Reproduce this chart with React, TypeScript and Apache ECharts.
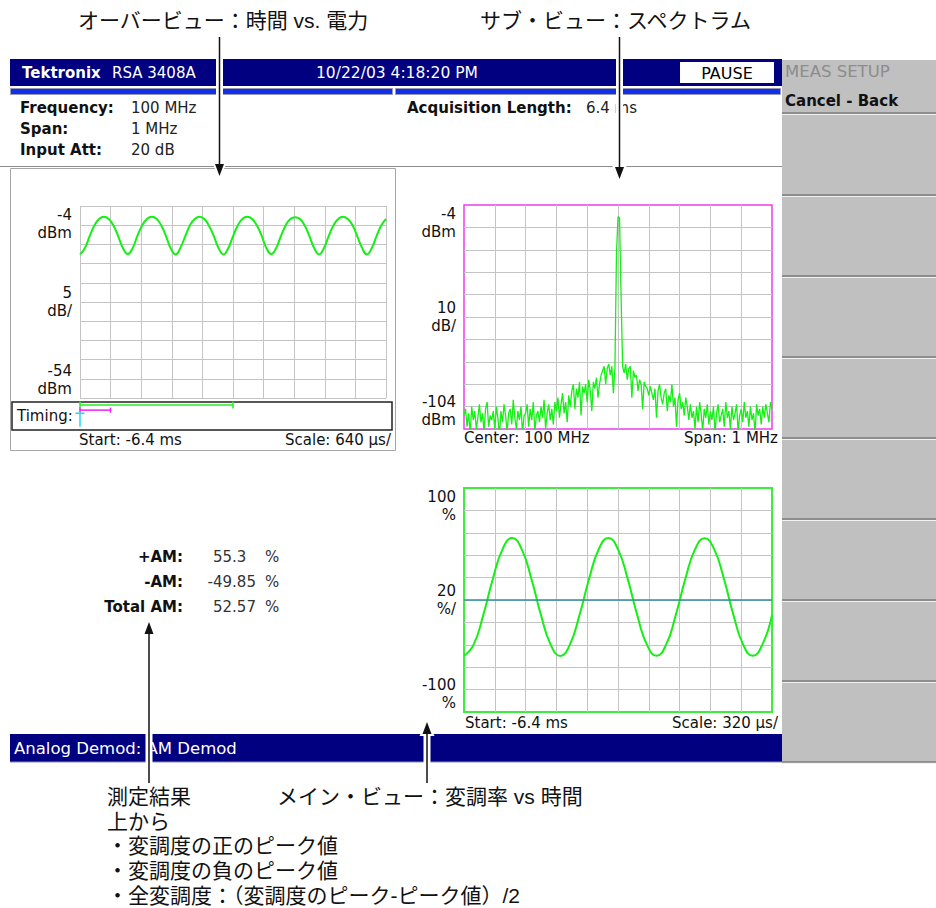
import React, { useEffect, useRef } from 'react';
import * as echarts from 'echarts';

const UI_FONT = "'DejaVu Sans', 'Liberation Sans', sans-serif";
const JP_FONT = "'Liberation Sans', 'Noto Sans CJK JP', 'Noto Sans CJK SC', sans-serif";

// ---------- Overview: power vs time (dBm), samples every 100 µs from -6.4 ms ----------
const OV_START_US = -6400;
const OV_STEP_US = 100;
const OV_POWER_DBM = [
  -16.6, -15.0, -11.9, -9.1, -7.4, -6.8, -7.4, -9.1, -11.9, -15.0,
  -16.5, -15.0, -11.8, -9.1, -7.4, -6.8, -7.3, -9.1, -11.9, -15.1,
  -16.6, -14.9, -11.9, -9.0, -7.4, -6.8, -7.4, -9.2, -11.9, -15.0,
  -16.6, -15.0, -11.9, -9.1, -7.3, -6.8, -7.4, -9.1, -11.8, -15.0,
  -16.5, -15.0, -11.9, -9.1, -7.4, -6.9, -7.4, -9.1, -11.9, -15.0,
  -16.6, -15.0, -11.9, -9.1, -7.4, -6.8, -7.4, -9.0, -11.9, -14.9,
  -16.6, -15.0, -11.9, -9.1, -7.4,
];
const OV_Y_LABELS = ['-4\ndBm', '5\ndB/', '-54\ndBm'];
const OV_X_TEXT = ['Start: -6.4 ms', 'Scale: 640 µs/'];

// ---------- Timing strip (µs) ----------
const TIMING_MAIN_US = [-6400, -3200];
const TIMING_SPEC_US = [-6400, -5760];
const TRIGGER_US = -6400;

// ---------- Sub view: spectrum (dBm), every 5 kHz from -500 kHz ----------
const SPEC_START_KHZ = -500;
const SPEC_STEP_KHZ = 5;
const SPEC_DBM = [
  -98, -95, -103, -97, -106, -94, -100, -96, -104, -99,
  -93, -101, -97, -105, -95, -92, -103, -98, -100, -96,
  -104, -94, -99, -107, -96, -101, -93, -98, -105, -97,
  -95, -102, -91, -99, -104, -96, -100, -94, -106, -98,
  -97, -93, -103, -95, -100, -92, -105, -98, -96, -101,
  -94, -99, -91, -104, -97, -93, -100, -95, -102, -92,
  -96, -90, -99, -93, -88, -97, -92, -101, -89, -94,
  -87, -84, -95, -86, -90, -83, -98, -85, -88, -84,
  -92, -82, -87, -96, -83, -86, -81, -90, -84, -80,
  -78, -76, -84, -77, -75, -80, -76, -88, -77,
  -26, -9.2, -9.8, -45,
  -76, -79, -75, -82, -77, -76, -90, -78,
  -81, -80, -87, -82, -84, -95, -83, -85, -86, -89,
  -85, -88, -91, -86, -99, -87, -84, -90, -93, -88,
  -86, -96, -89, -92, -84, -94, -90, -103, -91, -88,
  -95, -92, -98, -90, -94, -100,
  -93, -99, -96, -104, -94, -101, -92, -97, -105, -95,
  -99, -93, -102, -96, -100, -94, -106, -97, -93, -101,
  -98, -95, -103, -92, -99, -96, -104, -94, -100, -97,
  -93, -105, -98, -95, -101, -92, -99, -96, -103, -94,
  -100, -97, -106, -93, -98, -95, -102, -94, -99, -93,
  -97, -101, -92, -95,
];
const SPEC_Y_LABELS = ['-4\ndBm', '10\ndB/', '-104\ndBm'];
const SPEC_X_TEXT = ['Center: 100 MHz', 'Span: 1 MHz'];

// ---------- Main view: AM modulation (%) vs time, every 100 µs from -6.4 ms ----------
const AM_START_US = -6400;
const AM_STEP_US = 100;
const AM_PERCENT = [
  -49.8, -39.8, -13.5, 19.0, 45.2, 55.3, 45.2, 19.0, -13.5, -39.8,
  -49.9, -39.8, -13.4, 19.0, 45.3, 55.3, 45.2, 19.1, -13.5, -39.9,
  -49.8, -39.8, -13.5, 18.9, 45.2, 55.2, 45.2, 19.0, -13.5, -39.8,
  -49.8, -39.8, -13.5,
];
const AM_Y_LABELS = ['100\n%', '20\n%/', '-100\n%'];
const AM_X_TEXT = ['Start: -6.4 ms', 'Scale: 320 µs/'];

// ---------- Texts ----------
const HEADER = ['Tektronix', 'RSA 3408A', '10/22/03 4:18:20 PM', 'PAUSE'];
const INFO_LABELS = ['Frequency:', 'Span:', 'Input Att:'];
const INFO_VALUES = ['100 MHz', '1 MHz', '20 dB'];
const ACQ = ['Acquisition Length:', '6.4 ms'];
const RESULT_LABELS = ['+AM:', '-AM:', 'Total AM:'];
const RESULT_VALUES = ['55.3', '-49.85', '52.57'];
const STATUS_TEXT = 'Analog Demod: AM Demod';
const MENU_ITEMS = ['MEAS SETUP', 'Cancel - Back'];
const NOTES_TOP = ['オーバービュー：時間 vs. 電力', 'サブ・ビュー：スペクトラム'];
const NOTES_BOTTOM = [
  '測定結果',
  'メイン・ビュー：変調率 vs 時間',
  '上から',
  '・変調度の正のピーク値',
  '・変調度の負のピーク値',
  '・全変調度：（変調度のピーク-ピーク値）/2',
];

const NAVY = '#000080';
const TRACE = '#14f014';

const GRID_SPLIT = { show: true, lineStyle: { color: '#c4c4c4', width: 1 } };
const GRID_SPLIT_INNER = { ...GRID_SPLIT, showMinLine: false, showMaxLine: false };

function tagAxis(
  gridIndex: number, min: number, max: number, interval: number,
  at: number, text: string, verticalAlign: string, splitLine?: any,
) {
  return {
    type: 'value', gridIndex, position: 'left', min, max, interval,
    axisLine: { show: false }, axisTick: { show: false },
    splitLine: splitLine ?? { show: false },
    axisLabel: {
      show: true, margin: 8, color: '#111', fontSize: 15, fontFamily: UI_FONT,
      lineHeight: 18, align: 'right', verticalAlign,
      showMinLabel: true, showMaxLabel: true,
      formatter: (v: number) => (Math.abs(v - at) < 1e-6 ? text : ''),
    },
  };
}

function txt(text: string, x: number, y: number, extra: any = {}) {
  return {
    type: 'text', x, y, z: 10,
    style: {
      text, fontFamily: UI_FONT, fontSize: 15, fill: '#111',
      align: 'left', verticalAlign: 'middle', ...extra,
    },
  };
}

function jp(text: string, x: number, y: number) {
  return txt(text, x, y, { fontFamily: JP_FONT, fontSize: 21, lineHeight: 23 });
}

function rect(x: number, y: number, w: number, h: number, style: any, z = 1) {
  return { type: 'rect', z, shape: { x, y, width: w, height: h }, style };
}

function hline(x1: number, x2: number, y: number, stroke: string, lineWidth = 1, z = 5) {
  return { type: 'line', z, shape: { x1, y1: y, x2, y2: y }, style: { stroke, lineWidth } };
}

function arrow(x: number, y0: number, yTip: number) {
  const dir = yTip > y0 ? 1 : -1;
  const headLen = 12;
  const half = 4.5;
  const baseY = yTip - dir * headLen;
  return [
    { type: 'line', z: 200, shape: { x1: x, y1: y0, x2: x, y2: yTip }, style: { stroke: '#ffffff', lineWidth: 7 } },
    {
      type: 'polygon', z: 200,
      shape: { points: [[x - half - 3, baseY - dir * 2], [x + half + 3, baseY - dir * 2], [x, yTip + dir * 3]] },
      style: { fill: '#ffffff' },
    },
    { type: 'line', z: 201, shape: { x1: x, y1: y0, x2: x, y2: baseY }, style: { stroke: '#111', lineWidth: 1.5 } },
    {
      type: 'polygon', z: 201,
      shape: { points: [[x - half, baseY], [x + half, baseY], [x, yTip]] },
      style: { fill: '#111' },
    },
  ];
}

function buildOption() {
  const ovData = OV_POWER_DBM.map((v, i) => [OV_START_US + i * OV_STEP_US, v]);
  const specData = SPEC_DBM.map((v, i) => [SPEC_START_KHZ + i * SPEC_STEP_KHZ, v]);
  const amData = AM_PERCENT.map((v, i) => [AM_START_US + i * AM_STEP_US, v]);

  const elements: any[] = [];

  // top annotations
  elements.push(jp(NOTES_TOP[0], 78, 20));
  elements.push(jp(NOTES_TOP[1], 480, 20));

  // header bar
  elements.push(rect(10, 59, 772, 27, { fill: NAVY }));
  elements.push(txt(HEADER[0], 22, 73, { fill: '#fff', fontWeight: 'bold' }));
  elements.push(txt(HEADER[1], 112, 73, { fill: '#fff' }));
  elements.push(txt(HEADER[2], 316, 73, { fill: '#fff', fontSize: 15.5 }));
  elements.push(rect(680, 62, 94, 21, { fill: '#fff' }, 2));
  elements.push(txt(HEADER[3], 727, 73, { fill: '#000', align: 'center', fontSize: 16 }));
  elements.push(rect(10.5, 88.5, 382, 6, { fill: '#1030e8', stroke: '#9a9ab8', lineWidth: 1 }));
  elements.push(rect(395.5, 88.5, 385, 6, { fill: '#1030e8', stroke: '#9a9ab8', lineWidth: 1 }));

  // info area
  INFO_LABELS.forEach((l, i) => {
    elements.push(txt(l, 20, 108 + i * 21, { fontWeight: 'bold' }));
    elements.push(txt(INFO_VALUES[i], 131, 108 + i * 21, { fill: '#222' }));
  });
  elements.push(txt(ACQ[0], 407, 108, { fontWeight: 'bold' }));
  elements.push(txt(ACQ[1], 586, 108, { fill: '#222' }));
  elements.push(hline(0, 782, 166.5, '#8c8c8c', 1));

  // overview panel
  elements.push(rect(10.5, 168.5, 385, 282, { fill: 'transparent', stroke: '#a6a6a6', lineWidth: 1 }));
  elements.push(rect(12, 402, 380, 28, { fill: 'transparent', stroke: '#222', lineWidth: 1.5 }));
  elements.push(txt('Timing:', 17, 416));
  elements.push(txt(OV_X_TEXT[0], 79, 440));
  elements.push(txt(OV_X_TEXT[1], 391, 440, { align: 'right' }));

  // spectrum / main labels
  elements.push(txt(SPEC_X_TEXT[0], 464, 438));
  elements.push(txt(SPEC_X_TEXT[1], 778, 438, { align: 'right' }));
  elements.push(txt(AM_X_TEXT[0], 465, 723));
  elements.push(txt(AM_X_TEXT[1], 778, 723, { align: 'right' }));

  // measurement results
  RESULT_LABELS.forEach((l, i) => {
    const y = 557 + i * 25;
    elements.push(txt(l, 183, y, { fontWeight: 'bold', align: 'right' }));
    const v = RESULT_VALUES[i];
    elements.push(txt(v, v.startsWith('-') ? 207.6 : 213, y, { fill: '#333' }));
    elements.push(txt('%', 265, y, { fill: '#333' }));
  });

  // status bar
  elements.push(rect(10, 734, 772, 28, { fill: NAVY }));
  elements.push(hline(10, 782, 762, '#8a8ab0', 1));
  elements.push(txt(STATUS_TEXT, 14, 748, { fill: '#fff', fontSize: 16.5 }));

  // right menu
  elements.push(rect(782, 60, 154, 702, { fill: '#c0c0c0' }));
  elements.push(txt(MENU_ITEMS[0], 785, 71, { fill: '#8c8c8c', fontSize: 16.5 }));
  elements.push(txt(MENU_ITEMS[1], 785, 101, { fill: '#111', fontWeight: 'bold' }));
  [113, 195, 276, 357, 438, 519, 600, 681, 762].forEach((y) => {
    elements.push(hline(782, 936, y, '#7c7c7c', 1.5, 6));
    elements.push(hline(782, 936, y + 1.5, '#f0f0f0', 1, 6));
  });

  // bottom annotations
  elements.push(jp(NOTES_BOTTOM[0], 107, 796));
  elements.push(jp(NOTES_BOTTOM[1], 277, 796));
  NOTES_BOTTOM.slice(2).forEach((t, i) => {
    elements.push(jp(t, 107, 821 + i * 24.7));
  });

  // arrows
  elements.push(...arrow(219.5, 37, 176));
  elements.push(...arrow(619.5, 37, 179));
  elements.push(...arrow(149, 783, 622));
  elements.push(...arrow(427, 783, 722));

  return {
    animation: false,
    backgroundColor: '#ffffff',
    grid: [
      { left: 80, top: 206, width: 306, height: 192, show: false },
      { left: 80, top: 402, width: 306, height: 28, show: false },
      { left: 464, top: 205, width: 308, height: 224, show: true, borderColor: '#ee3cee', borderWidth: 1.5 },
      { left: 464, top: 488, width: 308, height: 224, show: true, borderColor: '#3cee3c', borderWidth: 2 },
    ],
    xAxis: [
      {
        type: 'value', gridIndex: 0, min: -6400, max: 0, interval: 640,
        axisLine: { show: false }, axisTick: { show: false }, axisLabel: { show: false }, splitLine: GRID_SPLIT,
      },
      { type: 'value', gridIndex: 1, min: -6400, max: 0, show: false },
      {
        type: 'value', gridIndex: 2, min: -500, max: 500, interval: 100,
        axisLine: { show: false }, axisTick: { show: false }, axisLabel: { show: false }, splitLine: GRID_SPLIT_INNER,
      },
      {
        type: 'value', gridIndex: 3, min: -6400, max: -3200, interval: 320,
        axisLine: { show: false }, axisTick: { show: false }, axisLabel: { show: false }, splitLine: GRID_SPLIT_INNER,
      },
    ],
    yAxis: [
      { type: 'value', gridIndex: 0, min: -54, max: -4, show: false },
      tagAxis(0, 0, 10, 1, 5, OV_Y_LABELS[1], 'middle', GRID_SPLIT),
      tagAxis(0, 0, 10, 5, 10, OV_Y_LABELS[0], 'top'),
      tagAxis(0, 0, 10, 5, 0, OV_Y_LABELS[2], 'bottom'),
      { type: 'value', gridIndex: 1, min: 0, max: 10, show: false },
      { type: 'value', gridIndex: 2, min: -104, max: -4, show: false },
      tagAxis(2, 0, 10, 1, 5, SPEC_Y_LABELS[1], 'middle', GRID_SPLIT_INNER),
      tagAxis(2, 0, 10, 5, 10, SPEC_Y_LABELS[0], 'top'),
      tagAxis(2, 0, 10, 5, 0, SPEC_Y_LABELS[2], 'bottom'),
      tagAxis(3, -100, 100, 20, 0, AM_Y_LABELS[1], 'middle', GRID_SPLIT_INNER),
      tagAxis(3, -100, 100, 100, 100, AM_Y_LABELS[0], 'top'),
      tagAxis(3, -100, 100, 100, -100, AM_Y_LABELS[2], 'bottom'),
    ],
    series: [
      {
        type: 'line', xAxisIndex: 0, yAxisIndex: 0, data: ovData, smooth: 0.5,
        showSymbol: false, lineStyle: { color: TRACE, width: 2 }, silent: true,
      },
      {
        type: 'line', xAxisIndex: 1, yAxisIndex: 4, data: TIMING_MAIN_US.map((t) => [t, 8.9]),
        symbol: 'rect', symbolSize: [1.5, 7], showSymbol: true, clip: false, silent: true,
        lineStyle: { color: '#22ee22', width: 1.5 }, itemStyle: { color: '#22ee22' },
      },
      {
        type: 'line', xAxisIndex: 1, yAxisIndex: 4, data: TIMING_SPEC_US.map((t) => [t, 7.1]),
        symbol: 'rect', symbolSize: [1.5, 5], showSymbol: true, clip: false, silent: true,
        lineStyle: { color: '#f020f0', width: 1.5 }, itemStyle: { color: '#f020f0' },
      },
      {
        type: 'line', xAxisIndex: 1, yAxisIndex: 4, data: [[TRIGGER_US, 6.0], [TRIGGER_US, 1.2]],
        symbol: 'rect', showSymbol: true, clip: false, silent: true,
        symbolSize: (_v: any, p: any) => (p.dataIndex === 0 ? [9, 1.5] : 0),
        lineStyle: { color: '#22d8f0', width: 1.5 }, itemStyle: { color: '#22d8f0' },
      },
      {
        type: 'line', xAxisIndex: 2, yAxisIndex: 5, data: specData,
        showSymbol: false, lineStyle: { color: TRACE, width: 1.3 }, silent: true,
      },
      {
        type: 'line', xAxisIndex: 3, yAxisIndex: 9, data: amData, smooth: 0.5,
        showSymbol: false, lineStyle: { color: TRACE, width: 2 }, silent: true,
        markLine: {
          silent: true, symbol: 'none', label: { show: false },
          lineStyle: { color: '#2f8fa0', width: 1.5, type: 'solid' },
          data: [{ yAxis: 0 }],
        },
      },
    ],
    graphic: { elements },
  };
}

export default function App() {
  const ref = useRef<HTMLDivElement>(null);
  useEffect(() => {
    if (!ref.current) return;
    document.body.style.margin = '0';
    const chart = echarts.init(ref.current, undefined, { renderer: 'svg' });
    chart.setOption(buildOption() as any);
    return () => chart.dispose();
  }, []);
  return (
    <div
      ref={ref}
      style={{ position: 'absolute', left: 0, top: 0, width: 936, height: 908, background: '#fff' }}
    />
  );
}
